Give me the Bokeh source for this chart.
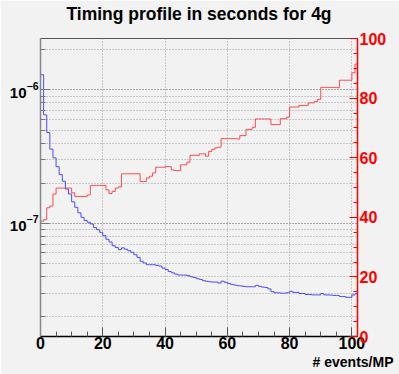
import numpy as np
from bokeh.plotting import figure
from bokeh.models import Range1d, LinearAxis, LinearScale, SingleIntervalTicker, Title
from bokeh.embed import file_html
from bokeh.resources import INLINE

# ---- data -------------------------------------------------------------
bin_edges = np.arange(0, 103)  # 102 bins of width 1 (# events/MP)

time_per_event = [
    1.30e-6, 6.5e-7, 4.8e-7, 3.6e-7, 3.1e-7, 2.66e-7, 2.32e-7, 2.07e-7, 1.81e-7, 1.66e-7,
    1.45e-7, 1.32e-7, 1.20e-7, 1.11e-7, 1.05e-7, 1.02e-7, 9.9e-8, 9.3e-8, 8.97e-8, 8.57e-8,
    8.1e-8, 7.6e-8, 7.25e-8, 6.8e-8, 6.6e-8, 6.35e-8, 6.55e-8, 6.4e-8, 6.24e-8, 6.07e-8,
    5.82e-8, 5.56e-8, 5.19e-8, 5.05e-8, 4.9e-8, 4.9e-8, 4.9e-8, 4.85e-8, 4.79e-8, 4.62e-8,
    4.51e-8, 4.36e-8, 4.26e-8, 4.17e-8, 4.1e-8, 4.1e-8, 4.1e-8, 4.06e-8, 3.98e-8, 3.93e-8,
    3.85e-8, 3.8e-8, 3.72e-8, 3.68e-8, 3.65e-8, 3.63e-8, 3.63e-8, 3.57e-8, 3.69e-8, 3.62e-8,
    3.55e-8, 3.49e-8, 3.45e-8, 3.41e-8, 3.40e-8, 3.37e-8, 3.35e-8, 3.35e-8, 3.35e-8, 3.43e-8,
    3.37e-8, 3.33e-8, 3.31e-8, 3.23e-8, 3.08e-8, 3.02e-8, 3.02e-8, 3.0e-8, 3.0e-8, 3.02e-8,
    3.1e-8, 3.04e-8, 3.04e-8, 2.98e-8, 2.98e-8, 2.93e-8, 2.93e-8, 2.91e-8, 2.91e-8, 2.91e-8,
    2.98e-8, 2.91e-8, 2.91e-8, 2.9e-8, 2.88e-8, 2.88e-8, 2.83e-8, 2.83e-8, 2.79e-8, 2.79e-8,
    2.91e-8, 2.98e-8,
]

right_scale_values = [
    38.7, 39.2, 43.2, 43.8, 47.8, 49.8, 49.8, 49.8, 49.8, 49.8,
    48.2, 47.0, 47.0, 47.0, 47.0, 47.5, 50.7, 50.7, 50.7, 50.7,
    50.7, 49.2, 48.0, 48.7, 49.8, 50.2, 54.6, 54.6, 54.6, 54.6,
    54.6, 54.6, 52.0, 52.0, 53.2, 53.8, 54.9, 56.8, 56.8, 56.8,
    57.0, 57.0, 55.9, 55.7, 55.7, 57.6, 57.6, 58.5, 60.8, 60.8,
    60.8, 61.3, 61.3, 60.5, 62.1, 62.8, 63.3, 63.5, 66.4, 66.4,
    66.4, 66.4, 66.4, 66.3, 67.4, 67.4, 69.5, 69.5, 70.2, 73.0,
    73.0, 73.0, 73.0, 73.0, 71.1, 71.1, 71.1, 73.1, 73.1, 73.6,
    77.0, 77.0, 77.0, 77.5, 77.5, 77.5, 78.4, 78.4, 78.9, 79.6,
    83.6, 83.6, 83.6, 83.6, 83.6, 83.5, 86.0, 86.0, 86.0, 86.0,
    88.5, 91.4,
]

title_text = "Timing profile in seconds for 4g"
x_title_text = "# events/MP"

# ---- style ------------------------------------------------------------
bg = "#f2f2f2"
FONT = "Liberation Sans"

p = figure(width=399, height=374,
           x_range=Range1d(0, 101.8), y_range=Range1d(1.42e-8, 2.43e-6),
           y_axis_type="log", output_backend="svg", toolbar_location=None,
           min_border_left=40, min_border_right=42, min_border_top=38, min_border_bottom=38,
           background_fill_color=bg, border_fill_color=bg,
           outline_line_color="#555555", outline_line_width=1)
p.extra_y_ranges = {"frac": Range1d(0, 100)}
p.extra_y_scales = {"frac": LinearScale()}

xt = SingleIntervalTicker(interval=20, num_minor_ticks=4)
p.xaxis.ticker = xt
p.xgrid.ticker = xt

for ax in (p.xaxis[0], p.yaxis[0]):
    ax.major_tick_out = 0
    ax.minor_tick_out = 0
    ax.major_tick_in = 9
    ax.minor_tick_in = 5
    ax.major_label_text_font = FONT
    ax.major_label_text_font_style = "bold"
    ax.major_label_text_color = "black"

p.xaxis.axis_line_color = "black"
p.xaxis.axis_line_width = 1.5
p.xaxis.major_tick_line_color = "#555555"
p.xaxis.minor_tick_line_color = "#555555"
p.xaxis.major_label_text_font_size = "16px"
p.xaxis.major_label_standoff = 0

p.yaxis.axis_line_color = "#888888"
p.yaxis.axis_line_width = 1.5
p.yaxis.major_tick_line_color = "#777777"
p.yaxis.minor_tick_line_color = "#777777"
p.yaxis.major_label_text_font_size = "15px"
p.yaxis.major_label_standoff = 2

for g in (p.xgrid[0], p.ygrid[0]):
    g.grid_line_color = "#9a9a9a"
    g.grid_line_dash = "1 2"
    g.grid_line_width = 1
p.ygrid.minor_grid_line_color = "#9a9a9a"
p.ygrid.minor_grid_line_dash = "1 2"

rax = LinearAxis(y_range_name="frac",
                 ticker=SingleIntervalTicker(interval=20, num_minor_ticks=4),
                 axis_line_color="#ff0000", axis_line_width=1.5,
                 major_tick_line_color="#ff0000", minor_tick_line_color="#ff0000",
                 major_tick_in=8, major_tick_out=0, minor_tick_in=4, minor_tick_out=0,
                 major_label_text_color="#ff0000", major_label_text_font=FONT,
                 major_label_text_font_style="bold", major_label_text_font_size="16px",
                 major_label_standoff=2)
p.add_layout(rax, "right")

blue_y = list(time_per_event) + [time_per_event[-1]]
red_y = list(right_scale_values) + [right_scale_values[-1]]

p.step(x=bin_edges, y=blue_y, mode="after", line_color="#4b4bff", line_width=1)
p.step(x=bin_edges, y=red_y, mode="after", y_range_name="frac",
       line_color="#ff4b4b", line_width=1)

# main title (outermost panel) with a small spacer panel between it and the frame
p.title.text = title_text
p.title.align = "center"
p.title.vertical_align = "top"
p.title.standoff = 0
p.title.text_font = FONT
p.title.text_font_style = "bold"
p.title.text_font_size = "17.5px"
p.title.text_color = "black"
p.add_layout(Title(text="\u00a0", standoff=0, text_font_size="10px",
                   text_color=bg), "above")

p.add_layout(Title(text=x_title_text, align="right", offset=-36, standoff=0,
                   text_font=FONT, text_font_style="bold", text_font_size="14px",
                   text_color="black"), "below")

open("out.html", "w").write(file_html(p, INLINE))
